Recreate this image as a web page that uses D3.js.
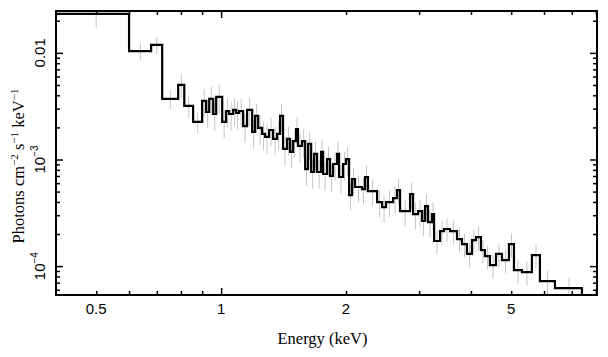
<!DOCTYPE html>
<html><head><meta charset="utf-8">
<script src="https://cdn.jsdelivr.net/npm/d3@7"></script>
<style>body{margin:0;background:#fff}svg{display:block}</style>
</head><body><svg id="c" width="608" height="357"></svg>
<script>
// Bin edges (keV)
const binEdges = [
0.40, 0.60, 0.678, 0.721, 0.788, 0.815, 0.856, 0.900, 0.920, 0.936,
0.957, 0.973, 1.006, 1.028, 1.045, 1.069, 1.087, 1.105, 1.130, 1.155,
1.188, 1.207, 1.228, 1.255, 1.276, 1.305, 1.334, 1.364, 1.387, 1.410,
1.442, 1.466, 1.491, 1.516, 1.532, 1.567, 1.594, 1.620, 1.648, 1.675,
1.703, 1.741, 1.761, 1.800, 1.830, 1.861, 1.903, 1.924, 1.967, 2.000,
2.034, 2.068, 2.102, 2.185, 2.222, 2.259, 2.376, 2.443, 2.497, 2.596,
2.654, 2.699, 2.853, 2.901, 2.982, 3.049, 3.100, 3.152, 3.222, 3.260,
3.370, 3.445, 3.561, 3.702, 3.805, 3.912, 4.022, 4.113, 4.228, 4.323,
4.444, 4.596, 4.751, 4.939, 5.078, 5.309, 5.610, 5.865, 6.374, 7.405];
// Flux per bin (photons cm^-2 s^-1 keV^-1)
const flux = [
0.0232, 0.0104, 0.0119, 0.00370, 0.00501, 0.00318, 0.00225, 0.00354, 0.00279, 0.00370,
0.00267, 0.00386, 0.00225, 0.00285, 0.00267, 0.00292, 0.00273, 0.00285, 0.00206, 0.00292,
0.00181, 0.00256, 0.00198, 0.00174, 0.00163, 0.00189, 0.00156, 0.00174, 0.00256, 0.00126,
0.00156, 0.00118, 0.00149, 0.00193, 0.00134, 0.00149, 0.000814, 0.00140, 0.000763, 0.00113,
0.000763, 0.00118, 0.000731, 0.00101, 0.000700, 0.000907, 0.00113, 0.000685, 0.000907, 0.00101,
0.000464, 0.000656, 0.000552, 0.000528, 0.000685, 0.000506, 0.000399, 0.000358, 0.000399, 0.000435,
0.000517, 0.000328, 0.000474, 0.000308, 0.000328, 0.000265, 0.000366, 0.000259, 0.000308, 0.000172,
0.000213, 0.000223, 0.000213, 0.000179, 0.000161, 0.000130, 0.000175, 0.000187, 0.000141, 0.000124,
0.000102, 0.000130, 0.000114, 0.000161, 9.17e-5, 8.78e-5, 0.000127, 7.23e-5, 6.21e-5];
// Relative 1-sigma error per bin
const relErr = [
0.25, 0.18, 0.18, 0.20, 0.25, 0.22, 0.22, 0.30, 0.30, 0.30,
0.30, 0.30, 0.30, 0.30, 0.30, 0.30, 0.30, 0.30, 0.30, 0.30,
0.30, 0.30, 0.30, 0.30, 0.30, 0.30, 0.30, 0.30, 0.30, 0.30,
0.30, 0.30, 0.30, 0.30, 0.30, 0.30, 0.30, 0.30, 0.30, 0.30,
0.30, 0.30, 0.30, 0.30, 0.30, 0.30, 0.30, 0.30, 0.30, 0.30,
0.28, 0.28, 0.28, 0.28, 0.28, 0.28, 0.28, 0.28, 0.28, 0.28,
0.28, 0.28, 0.28, 0.28, 0.28, 0.28, 0.28, 0.28, 0.28, 0.25,
0.25, 0.25, 0.25, 0.25, 0.25, 0.25, 0.25, 0.25, 0.25, 0.25,
0.25, 0.25, 0.25, 0.25, 0.25, 0.25, 0.25, 0.25, 0.25];
const xTickValues = [0.5, 1, 2, 5];
const xTickText = ["0.5", "1", "2", "5"];
const yTickValues = [1e-4, 1e-3, 1e-2];
const yTickBase = ["10", "10", "0.01"];
const yTickExp = ["\u22124", "\u22123", ""];
const xDomain = [0.4, 8.05];
const yDomain = [5.36e-5, 0.0247];

const L = 56, R = 597, T = 11, B = 295;
const svg = d3.select("#c");
const x = d3.scaleLog().domain(xDomain).range([L, R]);
const y = d3.scaleLog().domain(yDomain).range([B, T]);

svg.append("defs").append("clipPath").attr("id", "clip")
  .append("rect").attr("x", L).attr("y", T).attr("width", R - L).attr("height", B - T);

const plot = svg.append("g").attr("clip-path", "url(#clip)");

// error bars
const bins = flux.map((f, i) => ({lo: binEdges[i], hi: binEdges[i + 1], f, e: relErr[i] * f}));
plot.selectAll("line.err").data(bins).join("line").attr("class", "err")
  .attr("x1", d => x((d.lo + d.hi) / 2)).attr("x2", d => x((d.lo + d.hi) / 2))
  .attr("y1", d => y(d.f + d.e)).attr("y2", d => y(d.f - d.e))
  .attr("stroke", "#c4c4c4").attr("stroke-width", 1);

// step histogram
const pts = [];
bins.forEach(d => { pts.push([d.lo, d.f]); pts.push([d.hi, d.f]); });
pts.push([binEdges[binEdges.length - 1], yDomain[0]]);
plot.append("path").attr("d", d3.line().x(d => x(d[0])).y(d => y(d[1]))(pts))
  .attr("fill", "none").attr("stroke", "#000").attr("stroke-width", 2.2)
  .attr("stroke-linejoin", "miter");

// ticks
const isMajor = v => Math.abs(Math.log10(v) - Math.round(Math.log10(v))) < 1e-6;
const xt = x.ticks().filter(v => v > xDomain[0] * 1.001 && v < xDomain[1]);
const yt = y.ticks().filter(v => v > yDomain[0] && v < yDomain[1]);
function addAxis(axisFn, scale, vals, len, tr) {
  const g = svg.append("g").attr("transform", tr)
    .call(axisFn(scale).tickValues(vals).tickSize(len).tickSizeOuter(0).tickFormat(""));
  g.select(".domain").remove();
  g.selectAll(".tick line").attr("stroke", "#000").attr("stroke-width", 1.5);
}
const xMaj = xt.filter(isMajor), xMin = xt.filter(v => !isMajor(v));
const yMaj = yt.filter(isMajor), yMin = yt.filter(v => !isMajor(v));
addAxis(d3.axisBottom, x, xMaj, -7, `translate(0,${B})`);
addAxis(d3.axisBottom, x, xMin, -4, `translate(0,${B})`);
addAxis(d3.axisTop, x, xMaj, -7, `translate(0,${T})`);
addAxis(d3.axisTop, x, xMin, -4, `translate(0,${T})`);
addAxis(d3.axisLeft, y, yMaj, -7, `translate(${L},0)`);
addAxis(d3.axisLeft, y, yMin, -4, `translate(${L},0)`);
addAxis(d3.axisRight, y, yMaj, -7, `translate(${R},0)`);
addAxis(d3.axisRight, y, yMin, -4, `translate(${R},0)`);

// frame
svg.append("rect").attr("x", L).attr("y", T).attr("width", R - L).attr("height", B - T)
  .attr("fill", "none").attr("stroke", "#000").attr("stroke-width", 2);

// x tick labels
svg.selectAll("text.xl").data(xTickValues).join("text").attr("class", "xl")
  .attr("x", d => x(d)).attr("y", 313.5).attr("text-anchor", "middle")
  .attr("font-family", "Liberation Sans, Arial, sans-serif").attr("font-size", 15)
  .text((d, i) => xTickText[i]);

// y tick labels
yTickValues.forEach((v, i) => {
  const t = svg.append("text")
    .attr("transform", `translate(45,${y(v)}) rotate(-90)`)
    .attr("text-anchor", "middle")
    .attr("font-family", "Liberation Sans, Arial, sans-serif").attr("font-size", 15);
  t.append("tspan").text(yTickBase[i]);
  if (yTickExp[i]) t.append("tspan").attr("dy", -7).attr("font-size", 10).text(yTickExp[i]);
});

// axis titles
svg.append("text").attr("x", (L + R) / 2 - 4).attr("y", 343.5).attr("text-anchor", "middle")
  .attr("font-family", "Liberation Serif, Times New Roman, serif").attr("font-size", 16.5)
  .text("Energy (keV)");

const yt2 = svg.append("text").attr("transform", "translate(24,166) rotate(-90)")
  .attr("text-anchor", "middle")
  .attr("font-family", "Liberation Serif, Times New Roman, serif").attr("font-size", 16.5);
yt2.append("tspan").text("Photons cm");
yt2.append("tspan").attr("dy", -6).attr("font-size", 11).text("\u22122");
yt2.append("tspan").attr("dy", 6).text(" s");
yt2.append("tspan").attr("dy", -6).attr("font-size", 11).text("\u22121");
yt2.append("tspan").attr("dy", 6).text(" keV");
yt2.append("tspan").attr("dy", -6).attr("font-size", 11).text("\u22121");
</script></body></html>
